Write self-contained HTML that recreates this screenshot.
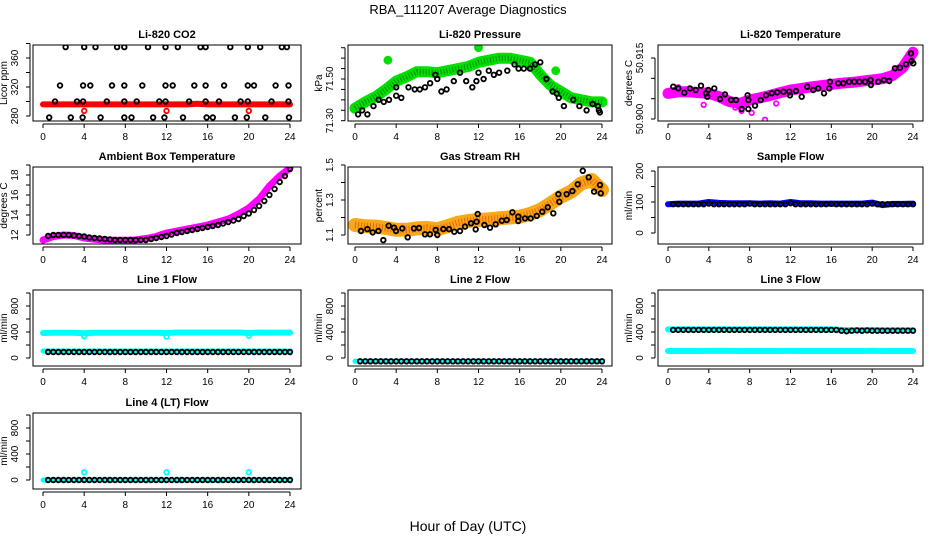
<!DOCTYPE html>
<html><head><meta charset="utf-8">
<style>
html,body{margin:0;padding:0;background:#fff;}
svg{display:block;font-family:"Liberation Sans",Arial,sans-serif;}
</style></head>
<body>
<svg id="chart" width="936" height="540" viewBox="0 0 936 540" xmlns="http://www.w3.org/2000/svg">
<rect x="0" y="0" width="936" height="540" fill="#fff"/>
<text x="468" y="14" text-anchor="middle" font-size="13">RBA_111207  Average Diagnostics</text>
<text x="468" y="531" text-anchor="middle" font-size="14">Hour of Day (UTC)</text>
</svg>
<script>
// ---- data ----
const H = [0,1,2,3,4,5,6,7,8,9,10,11,12,13,14,15,16,17,18,19,20,21,22,23,24];
const HALF = [0.5,1,1.5,2,2.5,3,3.5,4,4.5,5,5.5,6,6.5,7,7.5,8,8.5,9,9.5,10,10.5,11,11.5,12,12.5,13,13.5,14,14.5,15,15.5,16,16.5,17,17.5,18,18.5,19,19.5,20,20.5,21,21.5,22,22.5,23,23.5,24];
const xTicks = [0,4,8,12,16,20,24];

// CO2
const co2Band = [296,296,296,296,296,296,296,296,296,296,296,296,296,296,296,297,296,296,296,296,296,296,296,296,296];
const co2RedOutH = [4,12,20];
const co2RedOutV = [287,287,287];
const co2BlkH = [2.2,4.0,5.1,7.2,7.9,10.2,11.9,13.1,15.3,15.8,18.2,19.9,21.1,23.2,23.7,
  1.65,3.9,4.6,6.7,7.9,9.65,11.9,12.6,14.7,15.8,17.6,19.9,20.5,22.6,23.85,
  1.17,3.3,3.9,6.2,7.9,9.1,11.3,11.9,14.2,15.8,17.1,19.2,19.9,22.2,23.85,
  0.6,2.7,3.85,5.6,7.9,8.6,10.7,11.8,13.6,15.9,16.5,18.65,19.8,21.6,23.9];
const co2BlkV = [375,375,375,375,375,375,375,375,375,375,375,375,375,375,375,
  322,322,322,322,322,322,322,322,322,322,322,322,322,322,322,
  300,300,300,300,300,300,300,300,300,300,300,300,300,300,300,
  278,278,278,278,278,278,278,278,278,278,278,278,278,278,278];

// Pressure
const presBand = [71.36,71.39,71.415,71.45,71.49,71.51,71.535,71.535,71.53,71.54,71.55,71.56,71.58,71.59,71.60,71.60,71.59,71.58,71.52,71.47,71.44,71.41,71.40,71.39,71.39];
const presOutH = [3.2,12.0,19.5];
const presOutV = [71.59,71.65,71.54];
const presBlkH = [0.3,0.7,1.2,1.8,2.3,2.8,3.3,4.0,4.0,4.5,5.2,5.8,6.3,6.8,7.3,7.8,8.0,8.4,8.9,9.6,10.2,10.8,11.4,11.8,12.0,12.5,13.0,13.5,14.0,14.8,15.5,15.9,16.4,17.0,17.5,18.0,18.6,19.2,19.6,19.8,20.3,21.2,21.8,22.5,23.1,23.6,23.7,23.8];
const presBlkV = [71.33,71.35,71.33,71.37,71.40,71.39,71.40,71.46,71.42,71.41,71.46,71.45,71.45,71.46,71.48,71.52,71.50,71.44,71.45,71.49,71.53,71.49,71.46,71.49,71.53,71.50,71.54,71.52,71.53,71.54,71.57,71.55,71.55,71.55,71.57,71.58,71.50,71.44,71.43,71.41,71.37,71.40,71.37,71.35,71.38,71.37,71.35,71.34];

// Li-820 temperature
const tempBand = [50.9063,50.9067,50.9067,50.9065,50.9063,50.9055,50.9043,50.9038,50.9047,50.9052,50.9058,50.9065,50.9071,50.9075,50.9079,50.9082,50.9085,50.9088,50.9090,50.9093,50.9096,50.9099,50.9107,50.9127,50.9164];
const tempOutH = [3.5,6.6,7.2,8.2,9.5,1.0,10.6];
const tempOutV = [50.9035,50.9028,50.9020,50.9015,50.8998,50.9078,50.9038];
const tempBlkH = [0.52,1.01,1.6,2.15,2.71,3.23,3.72,3.85,3.95,4.54,5.09,5.58,6.17,6.66,7.22,7.8,7.87,7.87,8.52,9.08,9.6,10.16,10.7,11.3,11.88,11.95,12.54,13.1,13.64,14.23,14.72,15.28,15.8,15.86,16.68,17.17,17.73,18.25,18.74,19.3,19.85,19.88,20.6,21.15,21.67,22.23,22.72,23.3,23.8,23.86,24.03];
const tempBlkV = [50.90795,50.90753,50.90647,50.90753,50.90713,50.90819,50.90631,50.90549,50.90713,50.90753,50.90492,50.90606,50.90467,50.90467,50.90246,50.90582,50.90467,50.90246,50.90329,50.90467,50.90582,50.90631,50.90656,50.90672,50.90672,50.90582,50.90688,50.90549,50.90795,50.90713,50.90753,50.90631,50.90753,50.90918,50.90877,50.90877,50.90918,50.90918,50.90918,50.90918,50.90959,50.90836,50.90918,50.90959,50.90934,50.91246,50.91262,50.91344,50.91614,50.91426,50.91369];

// Ambient box temperature
const ambBand = [11.5,11.85,12.0,11.95,11.7,11.57,11.5,11.48,11.47,11.5,11.65,11.85,12.2,12.4,12.6,12.8,13.0,13.3,13.6,14.1,14.7,15.6,16.9,17.9,18.7];
const ambPts = [11.9,12.0,12.0,12.0,12.0,11.95,11.9,11.85,11.75,11.7,11.65,11.6,11.55,11.5,11.5,11.5,11.5,11.5,11.5,11.5,11.6,11.7,11.8,11.9,12.05,12.2,12.3,12.4,12.5,12.6,12.7,12.8,12.9,13.0,13.15,13.3,13.45,13.6,13.9,14.15,14.5,14.9,15.4,16.0,16.6,17.3,17.9,18.6];

// Gas stream RH
const rhBand = [1.157,1.15,1.148,1.14,1.13,1.13,1.138,1.14,1.133,1.15,1.17,1.18,1.186,1.19,1.195,1.2,1.205,1.22,1.243,1.28,1.319,1.348,1.395,1.414,1.357];
const rhBlkH = [0.58,1.2,1.72,2.27,2.75,3.27,3.79,3.98,4.6,5.12,5.73,6.22,6.8,7.29,7.84,8.0,8.58,9.13,9.65,10.2,10.69,11.27,11.73,11.82,11.92,12.57,13.12,13.67,14.26,14.74,15.29,15.87,15.87,16.52,17.07,17.66,18.2,18.73,19.27,19.76,19.85,20.57,21.12,21.64,22.13,22.71,23.23,23.81,23.88];
const rhBlkV = [1.123,1.134,1.115,1.123,1.071,1.153,1.142,1.123,1.138,1.087,1.138,1.14,1.104,1.104,1.129,1.10,1.134,1.134,1.119,1.123,1.148,1.167,1.132,1.176,1.22,1.157,1.142,1.161,1.182,1.186,1.23,1.205,1.18,1.195,1.195,1.209,1.233,1.258,1.224,1.333,1.29,1.333,1.351,1.39,1.467,1.43,1.348,1.386,1.338];

// Sample flow
const sfBand = [93,95,95,95,100,97,96,96,96,95,96,95,100,96,96,95,95,95,95,95,98,90,94,94,95];
const sfPts = [93,93,93,93,93,93,93,95,93,93,93,93,93,93,93,95,93,93,93,93,93,93,93,96,93,93,93,93,93,93,93,94,93,93,93,93,93,93,93,95,93,93,93,93,93,93,93,93];

// Line flows
const l1Hi = [385,388,388,388,380,388,388,388,388,388,388,388,385,392,392,392,392,392,392,392,385,392,390,390,390];
const l1Lo = [108,108,108,108,108,108,108,108,108,108,108,108,108,108,108,108,108,108,108,108,108,108,108,108,108];
const l1OutH = [4,12,20];
const l1OutV = [335,330,345];
const l1Blk = [92,92,92,92,92,92,92,92,92,92,92,92,92,92,92,92,92,92,92,92,92,92,92,92,92,92,92,92,92,92,92,92,92,92,92,92,92,92,92,92,92,92,92,92,92,92,92,92];
const l2Cyan = [-50,-50,-50,-50,-50,-50,-50,-50,-50,-50,-50,-50,-50,-50,-50,-50,-50,-50,-50,-50,-50,-50,-50,-50,-50];
const l2Blk = [-50,-50,-50,-50,-50,-50,-50,-50,-50,-50,-50,-50,-50,-50,-50,-50,-50,-50,-50,-50,-50,-50,-50,-50,-50,-50,-50,-50,-50,-50,-50,-50,-50,-50,-50,-50,-50,-50,-50,-50,-50,-50,-50,-50,-50,-50,-50,-50];
const l3Hi = [440,440,440,440,440,440,440,440,440,440,440,440,440,440,440,440,440,432,430,430,432,428,428,428,428];
const l3Lo = [108,108,108,108,110,112,110,108,108,108,108,108,110,108,108,108,108,108,108,108,112,108,108,108,108];
const l3Blk = [432,432,432,432,432,432,432,432,432,432,432,432,432,432,432,432,432,432,432,432,432,432,432,432,432,432,432,432,432,432,432,432,432,420,412,420,425,420,425,420,420,420,420,420,420,420,420,420];
const l4Cyan = [0,0,0,0,0,0,0,0,0,0,0,0,0,0,0,0,0,-5,0,0,0,0,0,0,0];
const l4OutH = [4,12,20];
const l4OutV = [118,118,118];
const l4Blk = [0,0,0,0,0,0,0,0,0,0,0,0,0,0,0,0,0,0,0,0,0,0,0,0,0,0,0,0,0,0,0,0,0,0,0,0,0,0,0,0,0,0,0,0,0,0,0,0];

// ---- layout ----
const NS = 'http://www.w3.org/2000/svg';
const svg = document.getElementById('chart');
const COLS = [{bx0:33,bx1:301,x0:43,x24:290},{bx0:348,bx1:612,x0:355,x24:602},{bx0:658,bx1:923,x0:668,x24:913}];
const ROWS = [{top:45,bot:121},{top:167,bot:244},{top:290,bot:366},{top:413,bot:489}];

function mk(tag, attrs, parent){
  const e = document.createElementNS(NS, tag);
  for (const k in attrs) e.setAttribute(k, attrs[k]);
  (parent||svg).appendChild(e);
  return e;
}

function panel(cfg){
  const c = COLS[cfg.col], r = ROWS[cfg.row];
  const g = mk('g', {});
  
  
  const xs = h => c.x0 + (c.x24 - c.x0) * h / 24;
  const ys = v => cfg.p0 + (cfg.p1 - cfg.p0) * (v - cfg.v0) / (cfg.v1 - cfg.v0);
  const clip = 'clip-' + cfg.name;
  const cp = mk('clipPath', {id: clip}, g);
  mk('rect', {x:c.bx0, y:r.top, width:c.bx1-c.bx0, height:r.bot-r.top}, cp);
  const plot = mk('g', {'clip-path':'url(#'+clip+')'}, g);
  
  
  for (const s of cfg.series){
    const sg = mk('g', {}, plot);
    
    
    if (s.type === 'band'){
      const pts = s.x.map((h,i) => xs(h).toFixed(1)+','+ys(s.y[i]).toFixed(1)).join(' ');
      const pl = mk('polyline', {points:pts, fill:'none', stroke:s.color, 'stroke-width':s.w, 'stroke-linejoin':'round', 'stroke-linecap':'round'}, sg);
      
      
      if (s.inner){
        const p2 = mk('polyline', {points:pts, fill:'none', stroke:s.inner, 'stroke-width':s.w*0.5, 'stroke-dasharray':'1 2', 'stroke-linejoin':'round', opacity:0.6}, sg);
        
        
      }
    } else {
      const n = Math.min(s.x.length, s.y.length);
      for (let i=0;i<n;i++){
        const pt = mk('circle', {cx:xs(s.x[i]).toFixed(1), cy:ys(s.y[i]).toFixed(1), r:s.r||2.3, fill:s.fill||'none', stroke:s.color, 'stroke-width':s.sw||1.8}, sg);
        
        
      }
    }
  }
  const box = mk('rect', {x:c.bx0, y:r.top, width:c.bx1-c.bx0, height:r.bot-r.top, fill:'none', stroke:'#000', 'stroke-width':1}, g);
  
  
  const xa = mk('g', {}, g);
  
  
  mk('line', {x1:xs(0), y1:r.bot+3, x2:xs(24), y2:r.bot+3, stroke:'#000'}, xa);
  for (const t of xTicks){
    mk('line', {x1:xs(t), y1:r.bot+3, x2:xs(t), y2:r.bot+7, stroke:'#000'}, xa);
    const tl = mk('text', {x:xs(t), y:r.bot+19, 'text-anchor':'middle', 'font-size':10}, xa);
    tl.textContent = t;
    
    
  }
  const ya = mk('g', {}, g);
  
  
  const ax = c.bx0 - 3;
  mk('line', {x1:ax, y1:ys(cfg.ticks[0]), x2:ax, y2:ys(cfg.ticks[cfg.ticks.length-1]), stroke:'#000'}, ya);
  for (const t of cfg.ticks){
    mk('line', {x1:ax-4, y1:ys(t), x2:ax, y2:ys(t), stroke:'#000'}, ya);
  }
  for (let i=0;i<cfg.labels.length;i++){
    const y = ys(cfg.labels[i]);
    const tl = mk('text', {x:c.bx0-15, y:y, 'text-anchor':'middle', 'font-size':10, transform:'rotate(-90 '+(c.bx0-15)+' '+y+')'}, ya);
    tl.textContent = cfg.labelText[i];
    
    
  }
  const cy = (r.top + r.bot)/2;
  const yt = mk('text', {x:c.bx0-26, y:cy, 'text-anchor':'middle', 'font-size':10, transform:'rotate(-90 '+(c.bx0-26)+' '+cy+')'}, g);
  yt.textContent = cfg.ylab;
  
  
  const tt = mk('text', {x:(c.bx0+c.bx1)/2, y:r.top-7, 'text-anchor':'middle', 'font-size':11, 'font-weight':'bold'}, g);
  tt.textContent = cfg.title;
  
  
}

const BLK = '#000', CY = '#00ffff';
panel({name:'co2-panel', col:0,row:0,title:'Li-820 CO2', ylab:'Licor ppm', v0:280,p0:116,v1:360,p1:58,
  ticks:[280,300,320,340,360,380], labels:[280,320,360], labelText:['280','320','360'],
  series:[
    {name:'co2-red-band',type:'band',x:H,y:co2Band,color:'#ff0000',w:6},
    {name:'co2-red-outliers',type:'pts',x:co2RedOutH,y:co2RedOutV,color:'#ff0000'},
    {name:'co2-black-points',type:'pts',x:co2BlkH,y:co2BlkV,color:BLK}]});
panel({name:'pressure-panel', col:1,row:0,title:'Li-820 Pressure', ylab:'kPa', v0:71.30,p0:120.7,v1:71.50,p1:79,
  ticks:[71.30,71.35,71.40,71.45,71.50,71.55,71.60,71.65], labels:[71.30,71.50], labelText:['71.30','71.50'],
  series:[
    {name:'pressure-green-band',type:'band',x:H,y:presBand,color:'#00e000',w:11,inner:'#005500'},
    {name:'pressure-green-outliers',type:'pts',x:presOutH,y:presOutV,color:'#00e000',fill:'#00e000',r:3.5},
    {name:'pressure-black-points',type:'pts',x:presBlkH,y:presBlkV,color:BLK}]});
panel({name:'li820-temp-panel', col:2,row:0,title:'Li-820 Temperature', ylab:'degrees C', v0:50.900,p0:119,v1:50.915,p1:58,
  ticks:[50.900,50.905,50.910,50.915], labels:[50.900,50.915], labelText:['50.900','50.915'],
  series:[
    {name:'li820-temp-magenta-band',type:'band',x:H,y:tempBand,color:'#ff00ff',w:11},
    {name:'li820-temp-magenta-outliers',type:'pts',x:tempOutH,y:tempOutV,color:'#ff00ff'},
    {name:'li820-temp-black-points',type:'pts',x:tempBlkH,y:tempBlkV,color:BLK}]});
panel({name:'ambient-temp-panel', col:0,row:1,title:'Ambient Box Temperature', ylab:'degrees C', v0:12,p0:235,v1:18,p1:175,
  ticks:[12,13,14,15,16,17,18,19], labels:[12,14,16,18], labelText:['12','14','16','18'],
  series:[
    {name:'ambient-magenta-band',type:'band',x:H,y:ambBand,color:'#ff00ff',w:7},
    {name:'ambient-black-points',type:'pts',x:HALF,y:ambPts,color:BLK}]});
panel({name:'rh-panel', col:1,row:1,title:'Gas Stream RH', ylab:'percent', v0:1.1,p0:235,v1:1.5,p1:165,
  ticks:[1.1,1.2,1.3,1.4,1.5], labels:[1.1,1.3,1.5], labelText:['1.1','1.3','1.5'],
  series:[
    {name:'rh-orange-band',type:'band',x:H,y:rhBand,color:'#f8a818',w:14,inner:'#ee3300'},
    {name:'rh-black-points',type:'pts',x:rhBlkH,y:rhBlkV,color:BLK}]});
panel({name:'sample-flow-panel', col:2,row:1,title:'Sample Flow', ylab:'ml/min', v0:0,p0:233,v1:200,p1:171,
  ticks:[0,50,100,150,200], labels:[0,100,200], labelText:['0','100','200'],
  series:[
    {name:'sample-flow-blue-band',type:'band',x:H,y:sfBand,color:'#0000ff',w:6},
    {name:'sample-flow-black-points',type:'pts',x:HALF,y:sfPts,color:BLK}]});
const flowTicks = [0,200,400,600,800,1000];
panel({name:'line1-flow-panel', col:0,row:2,title:'Line 1 Flow', ylab:'ml/min', v0:0,p0:358,v1:800,p1:306,
  ticks:flowTicks, labels:[0,400,800], labelText:['0','400','800'],
  series:[
    {name:'line1-cyan-high-band',type:'band',x:H,y:l1Hi,color:CY,w:6},
    {name:'line1-cyan-low-band',type:'band',x:H,y:l1Lo,color:CY,w:5},
    {name:'line1-cyan-outliers',type:'pts',x:l1OutH,y:l1OutV,color:CY},
    {name:'line1-black-points',type:'pts',x:HALF,y:l1Blk,color:BLK}]});
panel({name:'line2-flow-panel', col:1,row:2,title:'Line 2 Flow', ylab:'ml/min', v0:0,p0:358,v1:800,p1:306,
  ticks:flowTicks, labels:[0,400,800], labelText:['0','400','800'],
  series:[
    {name:'line2-cyan-band',type:'band',x:H,y:l2Cyan,color:CY,w:5},
    {name:'line2-black-points',type:'pts',x:HALF,y:l2Blk,color:BLK}]});
panel({name:'line3-flow-panel', col:2,row:2,title:'Line 3 Flow', ylab:'ml/min', v0:0,p0:358,v1:800,p1:306,
  ticks:flowTicks, labels:[0,400,800], labelText:['0','400','800'],
  series:[
    {name:'line3-cyan-high-band',type:'band',x:H,y:l3Hi,color:CY,w:6},
    {name:'line3-cyan-low-band',type:'band',x:H,y:l3Lo,color:CY,w:6},
    {name:'line3-black-points',type:'pts',x:HALF,y:l3Blk,color:BLK}]});
panel({name:'line4-flow-panel', col:0,row:3,title:'Line 4 (LT) Flow', ylab:'ml/min', v0:0,p0:480,v1:800,p1:428,
  ticks:flowTicks, labels:[0,400,800], labelText:['0','400','800'],
  series:[
    {name:'line4-cyan-band',type:'band',x:H,y:l4Cyan,color:CY,w:5},
    {name:'line4-cyan-outliers',type:'pts',x:l4OutH,y:l4OutV,color:CY},
    {name:'line4-black-points',type:'pts',x:HALF,y:l4Blk,color:BLK}]});
</script>
</body></html>
